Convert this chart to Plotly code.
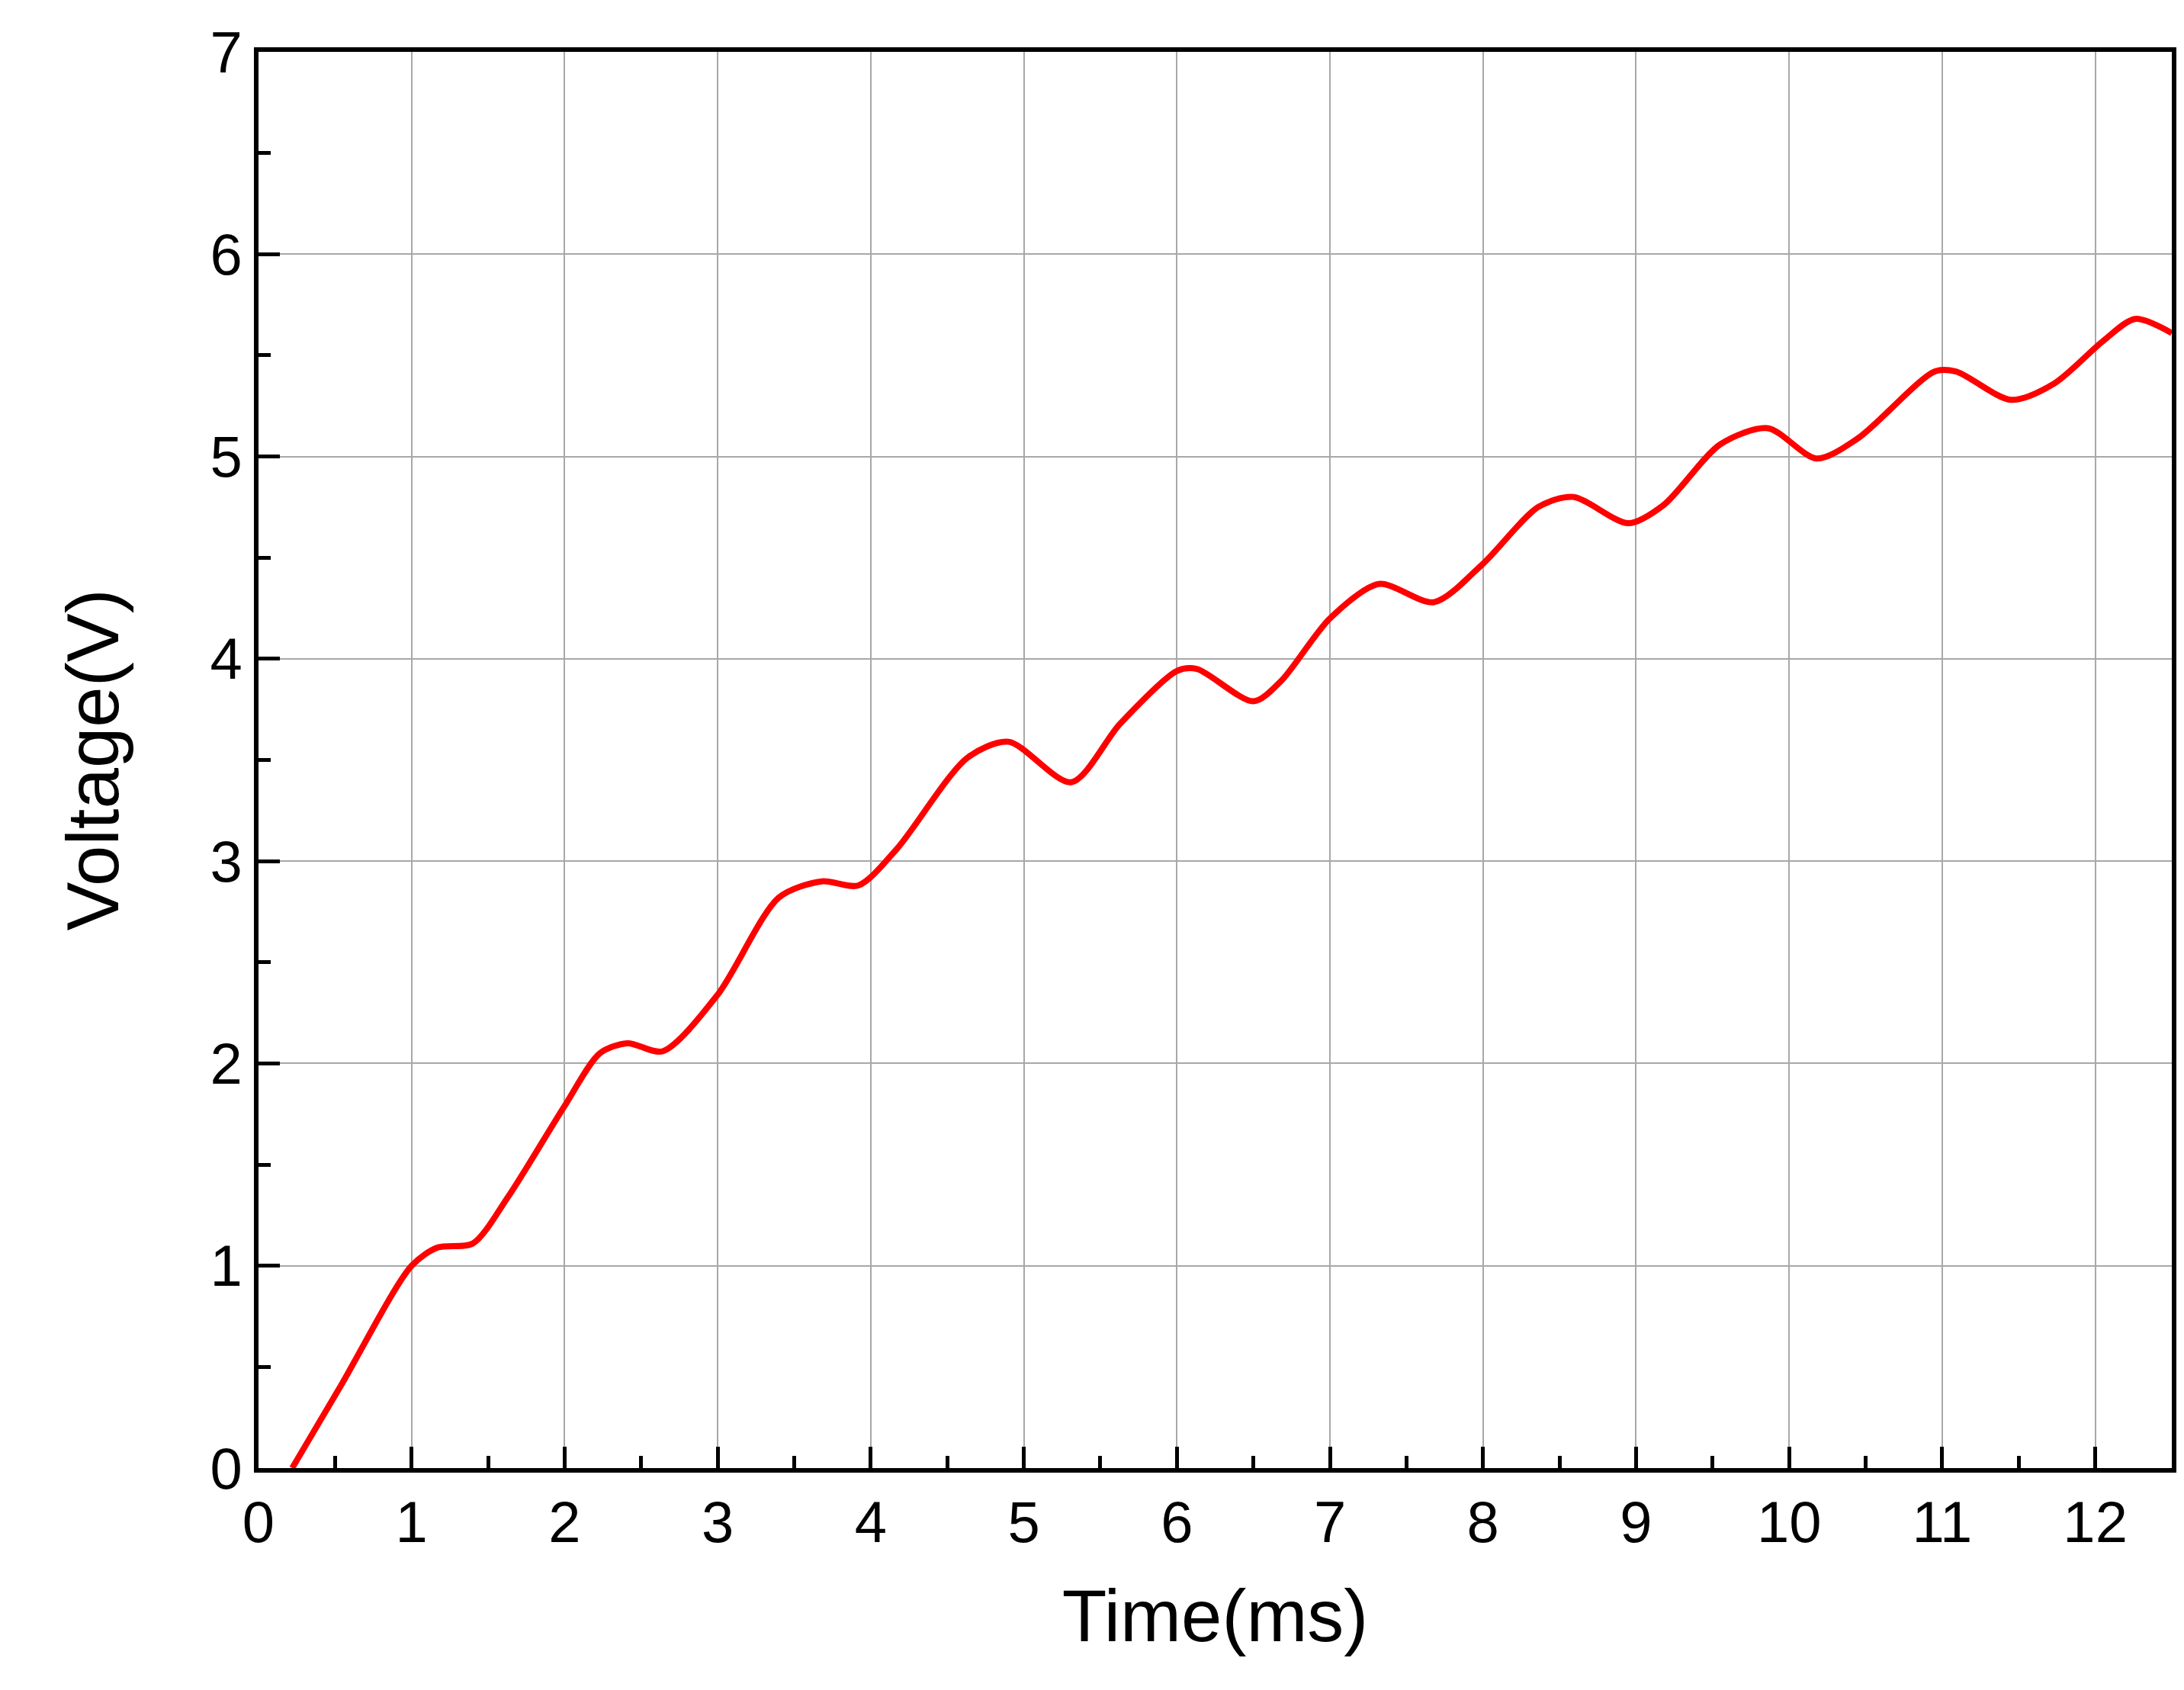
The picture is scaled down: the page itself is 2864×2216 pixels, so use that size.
import plotly.graph_objects as go

# values
time_ms = [0.22, 0.54, 1.0, 1.17, 1.4, 1.63, 2.0, 2.23, 2.41, 2.64, 3.0, 3.4, 3.68, 3.92,
           4.17, 4.63, 4.9, 5.31, 5.63, 6.0, 6.13, 6.5, 6.68, 7.0, 7.32, 7.68, 8.0, 8.36,
           8.59, 8.95, 9.18, 9.55, 9.86, 10.18, 10.45, 10.95, 11.09, 11.45, 11.73, 12.05,
           12.26, 12.5]
voltage = [0.0, 0.41, 1.0, 1.09, 1.11, 1.34, 1.79, 2.05, 2.1, 2.06, 2.34, 2.82, 2.9, 2.88,
           3.06, 3.51, 3.59, 3.39, 3.68, 3.94, 3.95, 3.79, 3.89, 4.2, 4.37, 4.28, 4.47, 4.75,
           4.8, 4.67, 4.76, 5.06, 5.14, 4.99, 5.09, 5.42, 5.42, 5.28, 5.36, 5.57, 5.68, 5.61]

fig = go.Figure(go.Scatter(x=time_ms, y=voltage, mode="lines",
                           line=dict(color="#ff0000", width=8, shape="spline", smoothing=0.8)))

axis_common = dict(showline=True, linecolor="black", linewidth=6, mirror=True,
                   showgrid=True, gridcolor="#a8a8a8", gridwidth=2,
                   ticks="inside", ticklen=28, tickwidth=5, tickcolor="black",
                   minor=dict(ticks="inside", ticklen=16, tickwidth=5, tickcolor="black",
                              showgrid=False),
                   zeroline=False, tickfont=dict(size=76, color="black"))

fig.update_xaxes(range=[0, 12.5], dtick=1, minor_dtick=0.5,
                 title=dict(text="Time(ms)", font=dict(size=96, color="black"), standoff=50),
                 **axis_common)
fig.update_yaxes(range=[0, 7], dtick=1, minor_dtick=0.5,
                 title=dict(text="Voltage(V)", font=dict(size=96, color="black"), standoff=90),
                 **axis_common)

fig.update_layout(width=2864, height=2216, plot_bgcolor="white", paper_bgcolor="white",
                  font=dict(family="Liberation Sans, Arial, sans-serif"),
                  margin=dict(l=331, r=24, t=60, b=299), showlegend=False)

fig.write_html("out.html")
